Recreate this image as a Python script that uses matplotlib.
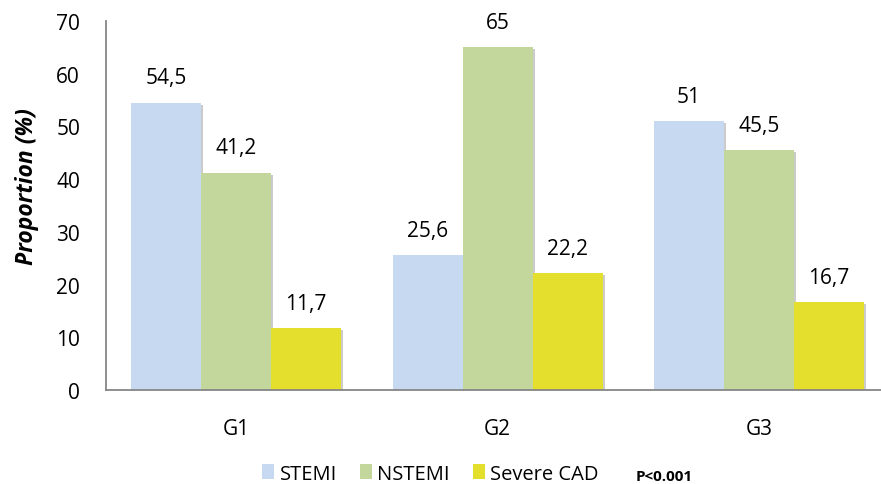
import matplotlib
matplotlib.use("Agg")
import matplotlib.pyplot as plt
import matplotlib.patheffects as pe
from matplotlib.patches import Patch
import numpy as np

plt.rcParams['font.family'] = ['Open Sans', 'DejaVu Sans']

groups = ["G1", "G2", "G3"]
series_names = ["STEMI", "NSTEMI", "Severe CAD"]
stemi = [54.5, 25.6, 51]
nstemi = [41.2, 65, 45.5]
severe_cad = [11.7, 22.2, 16.7]
value_labels = [["54,5", "25,6", "51"], ["41,2", "65", "45,5"], ["11,7", "22,2", "16,7"]]
yticks = [0, 10, 20, 30, 40, 50, 60, 70]
colors = ["#C6D9F1", "#C3D69B", "#E4DE2C"]

fig = plt.figure(figsize=(8.81, 4.85), dpi=100)
ax = fig.add_axes([0.12, 0.1938, 0.88, 0.7608])

x = np.arange(len(groups))
w = 0.2677
shadow = [pe.SimplePatchShadow(offset=(1.5, -1.5), shadow_rgbFace='#999999', alpha=0.5), pe.Normal()]
for i, (vals, col) in enumerate(zip([stemi, nstemi, severe_cad], colors)):
    pos = x + (i - 1) * w
    bars = ax.bar(pos, vals, width=w, color=col, edgecolor='none', zorder=2,
                  label=series_names[i])
    for b in bars:
        b.set_path_effects(shadow)
    for p, v, t in zip(pos, vals, value_labels[i]):
        ax.annotate(t, (p, v), xytext=(0, 14), textcoords='offset points',
                    ha='center', va='baseline', fontsize=15, color='black')

ax.set_xlim(-0.498, 2.466)
ax.set_ylim(0, 70)
ax.set_yticks(yticks)
ax.set_xticks(x)
ax.set_xticklabels(groups)
ax.tick_params(axis='y', length=0, pad=18.5, labelsize=15)
ax.tick_params(axis='x', length=0, pad=20, labelsize=15)
for s in ['top', 'right']:
    ax.spines[s].set_visible(False)
for s in ['left', 'bottom']:
    ax.spines[s].set_color('#868686')
    ax.spines[s].set_linewidth(1.3)
ax.set_ylabel("Proportion (%)", fontsize=16.5, fontweight='bold', fontstyle='italic')
ax.yaxis.set_label_coords(-0.0865, 0.554)

handles = [Patch(facecolor=c, edgecolor='none') for c in colors]
fig.legend(handles, series_names, loc='center', bbox_to_anchor=(0.4887, 0.0216), ncol=3,
           frameon=False, fontsize=14.5, handlelength=0.6, handleheight=0.75,
           handletextpad=0.26, columnspacing=1.15, borderpad=0, borderaxespad=0)
fig.text(0.7537, 0.0155, "P<0.001", fontsize=11, fontweight='bold', ha='center', va='center')

fig.savefig("out.png", dpi=100)
